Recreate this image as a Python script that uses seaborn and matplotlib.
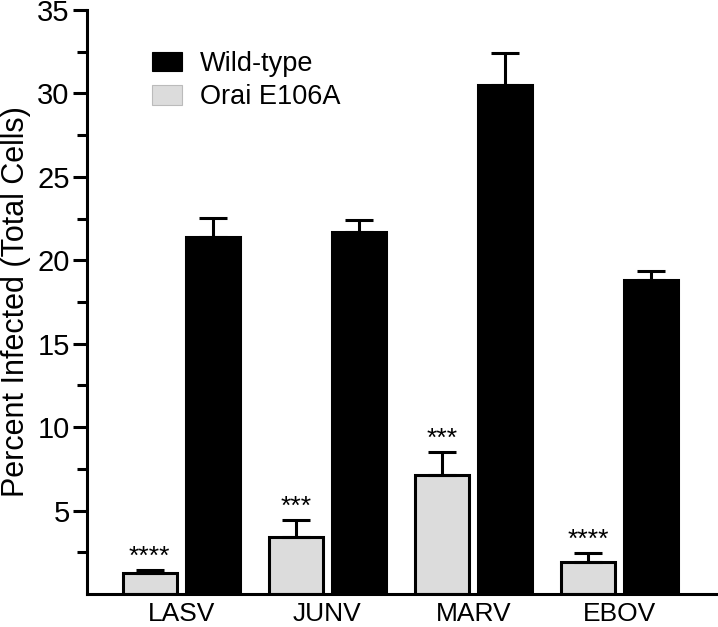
import matplotlib
matplotlib.use('Agg')
import matplotlib.pyplot as plt
import seaborn as sns
import pandas as pd
import numpy as np
from matplotlib.patches import Patch

# ---- data ----
viruses = ['LASV', 'JUNV', 'MARV', 'EBOV']
orai_vals = [1.26, 3.40, 7.16, 1.92]
orai_err = [0.19, 1.05, 1.33, 0.55]
wt_vals = [21.40, 21.72, 30.51, 18.83]
wt_err = [1.16, 0.72, 1.91, 0.54]
stars = ['****', '***', '***', '****']
hue_order = ['Orai E106A', 'Wild-type']
legend_order = ['Wild-type', 'Orai E106A']
y_major = [5, 10, 15, 20, 25, 30, 35]
y_minor = [2.5, 7.5, 12.5, 17.5, 22.5, 27.5, 32.5]

colors = {'Orai E106A': '#dcdcdc', 'Wild-type': '#000000'}

df = pd.DataFrame({
    'virus': viruses * 2,
    'strain': ['Orai E106A'] * 4 + ['Wild-type'] * 4,
    'value': orai_vals + wt_vals,
})
errs = {'Orai E106A': orai_err, 'Wild-type': wt_err}

plt.rcParams['font.family'] = ['Liberation Sans', 'DejaVu Sans']

fig = plt.figure(figsize=(7.18, 6.27), dpi=100)
ax = fig.add_axes([0.1212, 0.0526, 0.8788, 0.9314])

sns.barplot(data=df, x='virus', y='value', hue='strain', order=viruses,
            hue_order=hue_order, palette=colors, width=0.868, gap=0.15,
            edgecolor='black', linewidth=2.2, errorbar=None, legend=False,
            saturation=1, ax=ax)

for cont, level in zip(ax.containers, hue_order):
    xs = [b.get_x() + b.get_width() / 2 for b in cont]
    hs = [b.get_height() for b in cont]
    e = errs[level]
    ax.errorbar(xs, hs, yerr=[np.zeros(len(e)), e], fmt='none', ecolor='black',
                elinewidth=2.2, capsize=10, capthick=2.2, zorder=4)
    if level == 'Orai E106A':
        for x, h, ee, s in zip(xs, hs, e, stars):
            ax.annotate(s, xy=(x, h + ee), xytext=(0, 1), textcoords='offset points',
                        ha='center', va='bottom', fontsize=19)

ax.set_xlim(-0.645, 3.673)
ax.set_ylim(0, 35)
ax.set_yticks(y_major)
ax.set_yticks(y_minor, minor=True)
ax.set_xlabel('')
ax.set_ylabel('Percent Infected (Total Cells)', fontsize=22)
ax.yaxis.set_label_coords(-0.088, 0.5)

for sp in ['top', 'right']:
    ax.spines[sp].set_visible(False)
for sp in ['left', 'bottom']:
    ax.spines[sp].set_linewidth(2.2)

ax.tick_params(axis='y', which='major', length=10, width=2.2, labelsize=21, pad=2.5)
ax.tick_params(axis='y', which='minor', length=7.5, width=2.2)
ax.tick_params(axis='x', which='both', length=0, labelsize=19, pad=6)

handles = [Patch(facecolor=colors[l], edgecolor='#bbbbbb' if l != 'Wild-type' else 'black',
                 linewidth=0.8, label=l) for l in legend_order]
ax.legend(handles=handles, loc='upper left', bbox_to_anchor=(0.103, 0.93),
          frameon=False, fontsize=19.5, handlelength=1.1, handleheight=0.74,
          handletextpad=0.67, labelspacing=0.28, borderpad=0, borderaxespad=0)

fig.savefig('out.png', dpi=100)
